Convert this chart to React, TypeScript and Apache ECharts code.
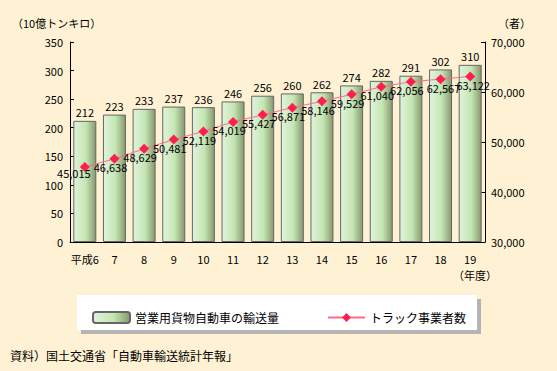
import React, { useEffect, useRef } from "react";
import * as echarts from "echarts";

const categories = ["平成6", "7", "8", "9", "10", "11", "12", "13", "14", "15", "16", "17", "18", "19"];
const freightVolume = [212, 223, 233, 237, 236, 246, 256, 260, 262, 274, 282, 291, 302, 310];
const truckOperators = [45015, 46638, 48629, 50481, 52119, 54019, 55427, 56871, 58146, 59529, 61040, 62056, 62567, 63122];
const barName = "営業用貨物自動車の輸送量";
const lineName = "トラック事業者数";

const FONT = "'Noto Sans CJK JP', 'Noto Sans', sans-serif";
const fmt = (v: number) => String(v).replace(/\B(?=(\d{3})+(?!\d))/g, ",");

function labelOffset(i: number, n: number): number[] {
  if (i === 0) return [-11, -2];
  if (i >= n - 2) return [3, 0];
  return [-4, 0];
}

export default function App() {
  const ref = useRef<HTMLDivElement>(null);
  useEffect(() => {
    if (!ref.current) return;
    const chart = echarts.init(ref.current, undefined, { renderer: "svg" });
    const barGrad = new echarts.graphic.LinearGradient(0, 0, 1, 0, [
      { offset: 0, color: "#e0f3dc" },
      { offset: 0.55, color: "#c4e6b2" },
      { offset: 1, color: "#879870" },
    ]);
    chart.setOption({
      animation: false,
      backgroundColor: "#fff2d4",
      textStyle: { fontFamily: FONT, fontSize: 11, color: "#000" },
      grid: { left: 70, right: 72, top: 42, bottom: 129 },
      graphic: [
        { type: "rect", shape: { x: 81, y: 299, width: 400, height: 35 }, style: { fill: "#b4b4b4" }, z: -1 },
        { type: "rect", shape: { x: 77, y: 295, width: 400, height: 35 }, style: { fill: "#ffffff" }, z: -1 },
        { type: "text", left: 12, top: 17, style: { text: "（10億トンキロ）", font: `11px ${FONT}`, fill: "#000" } },
        { type: "text", left: 498, top: 17, style: { text: "（者）", font: `11px ${FONT}`, fill: "#000" } },
        { type: "text", left: 453, top: 269, style: { text: "（年度）", font: `11px ${FONT}`, fill: "#000" } },
        { type: "text", left: 10, top: 349, style: { text: "資料）国土交通省「自動車輸送統計年報」", font: `12px ${FONT}`, fill: "#000" } },
      ],
      legend: {
        left: 87,
        top: 306,
        itemWidth: 37,
        itemHeight: 11,
        itemGap: 48,
        textStyle: { fontFamily: FONT, fontSize: 12, color: "#000" },
        data: [barName, lineName],
      },
      xAxis: {
        type: "category",
        data: categories,
        boundaryGap: true,
        axisLine: { lineStyle: { color: "#000", width: 1 } },
        axisTick: { inside: true, length: 4, lineStyle: { color: "#000" } },
        axisLabel: { color: "#000", fontSize: 11, margin: 11, fontFamily: FONT, interval: 0 },
      },
      yAxis: [
        {
          type: "value",
          min: 0,
          max: 350,
          interval: 50,
          splitLine: { show: false },
          axisLine: { show: true, lineStyle: { color: "#000" } },
          axisTick: { show: true, inside: true, length: 4, lineStyle: { color: "#000" } },
          axisLabel: { color: "#000", fontSize: 11, margin: 7, fontFamily: FONT },
        },
        {
          type: "value",
          min: 30000,
          max: 70000,
          interval: 10000,
          splitLine: { show: false },
          axisLine: { show: true, lineStyle: { color: "#000" } },
          axisTick: { show: true, inside: true, length: 4, lineStyle: { color: "#000" } },
          axisLabel: { color: "#000", fontSize: 11, margin: 6, fontFamily: FONT, formatter: (v: number) => fmt(v) },
        },
      ],
      series: [
        {
          name: barName,
          type: "bar",
          yAxisIndex: 0,
          barWidth: 23,
          data: freightVolume,
          itemStyle: { color: barGrad, borderColor: "#666666", borderWidth: 1 },
          label: { show: true, position: "top", distance: 3, color: "#000", fontSize: 11, fontFamily: FONT },
        },
        {
          name: lineName,
          type: "line",
          yAxisIndex: 1,
          data: truckOperators.map((v, i) => ({
            value: v,
            label: { offset: labelOffset(i, truckOperators.length) },
          })),
          symbol: "diamond",
          symbolSize: 10,
          lineStyle: { color: "#ff6a88", width: 1 },
          itemStyle: { color: "#ff1e50" },
          label: {
            show: true,
            position: "bottom",
            distance: -2,
            color: "#000",
            fontSize: 11,
            fontFamily: FONT,
            formatter: (p: any) => fmt(p.value),
          },
          z: 3,
        },
      ],
    });
    return () => chart.dispose();
  }, []);
  return <div ref={ref} style={{ width: 557, height: 371, position: "absolute", left: 0, top: 0 }} />;
}
